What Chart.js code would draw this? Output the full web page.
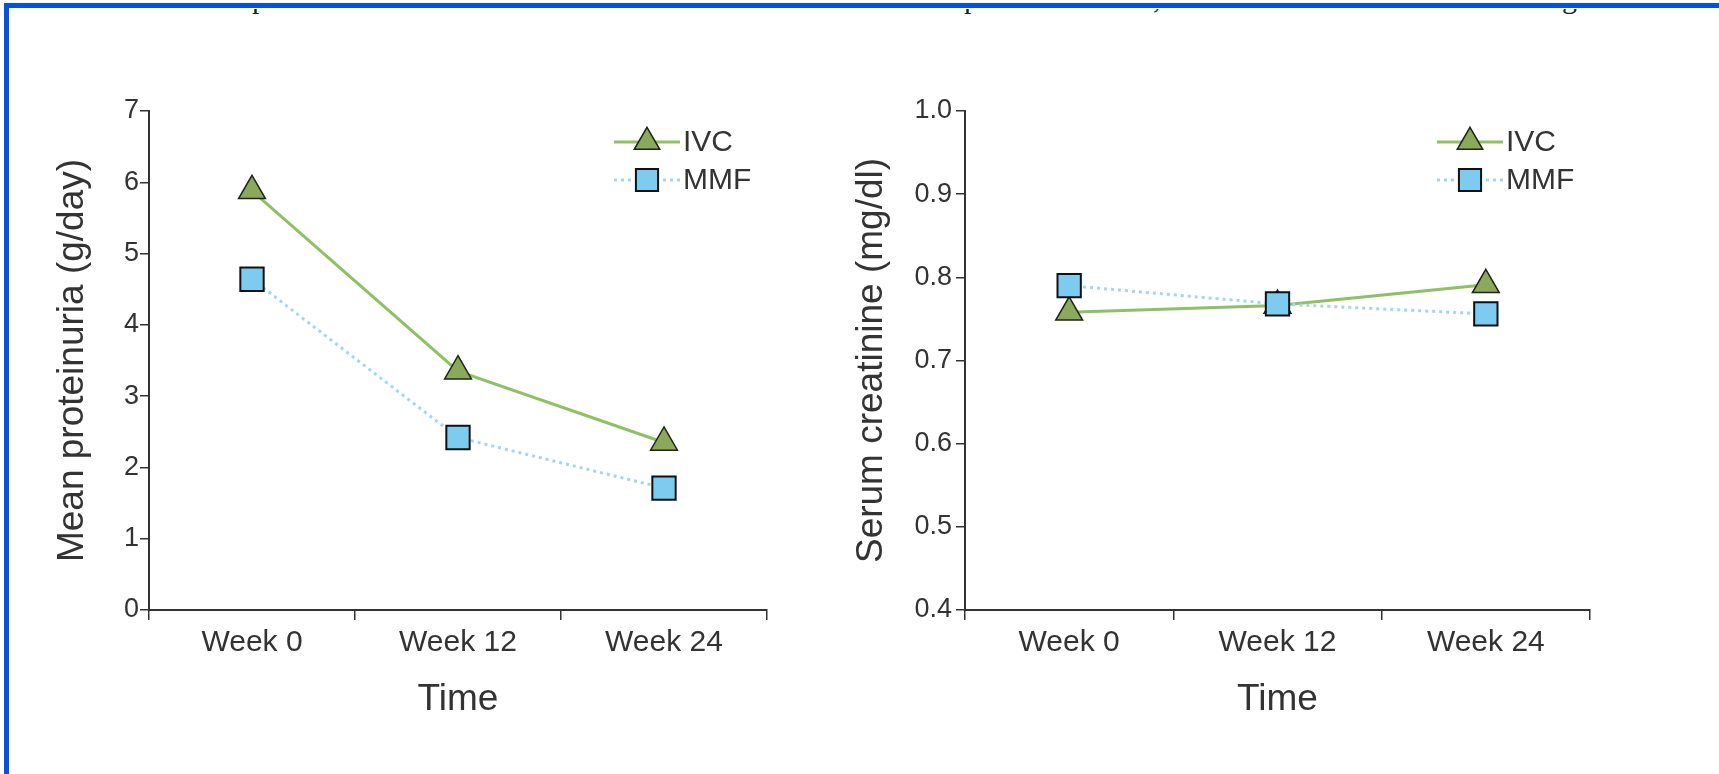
<!DOCTYPE html>
<html>
<head>
<meta charset="utf-8">
<script src="https://cdn.jsdelivr.net/npm/chart.js@4/dist/chart.umd.min.js"></script>
<style>
  html, body { margin: 0; padding: 0; background: #fff; }
  body { width: 1719px; height: 774px; position: relative; overflow: hidden; }
  .frame-top { position: absolute; left: 4px; top: 3px; width: 1715px; height: 5px; background: #0650e4; }
  .frame-left { position: absolute; left: 4px; top: 3px; width: 5px; height: 771px; background: #0650e4; }
  .cut { position: absolute; left: 0; top: 9px; width: 1719px; height: 20px; overflow: hidden; }
  .cut span { position: absolute; top: -26px; font: 30px/30px "Liberation Serif", serif; color: #222; }
  .panel { position: absolute; top: 0; width: 800px; height: 774px; }
</style>
</head>
<body>
<div class="frame-top"></div>
<div class="frame-left"></div>
<div class="cut">
  <span style="left:252px">p</span>
  <span style="left:964px">p</span>
  <span style="left:1153px">,</span>
  <span style="left:1562px">g</span>
</div>
<div class="panel" style="left:0"><canvas id="proteinuriaChart"></canvas></div>
<div class="panel" style="left:816px"><canvas id="creatinineChart"></canvas></div>

<script>
// Data
const weeks = ['Week 0', 'Week 12', 'Week 24'];
const seriesNames = ['IVC', 'MMF'];
const proteinuriaIVC = [5.88, 3.35, 2.35];
const proteinuriaMMF = [4.64, 2.42, 1.71];
const creatinineIVC = [0.758, 0.766, 0.791];
const creatinineMMF = [0.790, 0.768, 0.756];
const proteinuriaTicks = [0, 1, 2, 3, 4, 5, 6, 7];
const creatinineTicks = [0.4, 0.5, 0.6, 0.7, 0.8, 0.9, 1.0];

const FONT = '"Liberation Sans", Arial, Helvetica, sans-serif';
const TEXT = '#333';
const AXIS = '#333';

function ivcDataset(values) {
    return {
        label: seriesNames[0],
        data: values,
        order: 1,
        borderColor: '#90c066',
        borderWidth: 3,
        pointStyle: 'triangle',
        pointRadius: 15.5,
        pointHoverRadius: 15.5,
        pointBackgroundColor: '#8ba95b',
        pointBorderColor: '#1e2418',
        pointBorderWidth: 1.5,
        tension: 0
    };
}

function mmfDataset(values) {
    return {
        label: seriesNames[1],
        data: values,
        order: 0,
        borderColor: '#a6d6ee',
        borderWidth: 3,
        borderDash: [3, 4],
        pointStyle: 'rect',
        pointRadius: 16.5,
        pointHoverRadius: 16.5,
        pointBackgroundColor: '#7dcbef',
        pointBorderColor: '#111',
        pointBorderWidth: 2,
        tension: 0
    };
}

// draws the marker shapes used in the legend
function drawMarker(ctx, style, r, x, y) {
    ctx.beginPath();
    if (style === 'triangle') {
        ctx.moveTo(x, y - r);
        ctx.lineTo(x + Math.sin(2 * Math.PI / 3) * r, y + r / 2);
        ctx.lineTo(x - Math.sin(2 * Math.PI / 3) * r, y + r / 2);
        ctx.closePath();
    } else {
        const s = r * Math.SQRT1_2;
        ctx.rect(x - s, y - s, 2 * s, 2 * s);
    }
    ctx.fill();
    ctx.stroke();
}

// legend with a line sample and marker, like the figure
const lineLegend = {
    id: 'lineLegend',
    afterDraw(chart, args, opts) {
        const ctx = chart.ctx;
        const area = chart.chartArea;
        const x0 = area.right - opts.fromRight;
        const items = chart.data.datasets;
        items.forEach((ds, i) => {
            const y = area.top + opts.rows[i];
            ctx.save();
            ctx.strokeStyle = ds.borderColor;
            ctx.lineWidth = ds.borderWidth;
            ctx.setLineDash(ds.borderDash || []);
            ctx.beginPath();
            ctx.moveTo(x0, y);
            ctx.lineTo(x0 + opts.lineLength, y);
            ctx.stroke();
            ctx.setLineDash([]);
            ctx.fillStyle = ds.pointBackgroundColor;
            ctx.strokeStyle = ds.pointBorderColor;
            ctx.lineWidth = ds.pointBorderWidth;
            drawMarker(ctx, ds.pointStyle, ds.pointRadius * 0.95, x0 + opts.lineLength / 2, y);
            ctx.fillStyle = TEXT;
            ctx.font = opts.fontSize + 'px ' + FONT;
            ctx.textBaseline = 'middle';
            ctx.textAlign = 'left';
            ctx.fillText(ds.label, x0 + opts.lineLength + opts.gap, y + 1);
            ctx.restore();
        });
    }
};

function makeChart(id, datasets, ticks, yTitle, decimals, padLeft, yWidth, padRight, yTickPad) {
    const ctx = document.getElementById(id).getContext('2d');
    return new Chart(ctx, {
        type: 'line',
        data: { labels: weeks, datasets: datasets },
        plugins: [lineLegend],
        options: {
            responsive: true,
            maintainAspectRatio: false,
            animation: false,
            layout: { padding: { left: padLeft, top: 111, right: padRight, bottom: 56 } },
            plugins: {
                legend: { display: false },
                tooltip: { enabled: false },
                lineLegend: { fromRight: 153, rows: [31, 69], lineLength: 66, gap: 3, fontSize: 30 }
            },
            scales: {
                x: {
                    type: 'category',
                    offset: true,
                    afterFit: (scale) => { scale.height = 108; },
                    grid: {
                        offset: true,
                        drawOnChartArea: false,
                        drawTicks: true,
                        tickLength: 10,
                        color: AXIS,
                        lineWidth: 1.5
                    },
                    border: { display: true, color: AXIS, width: 2 },
                    ticks: { color: TEXT, font: { family: FONT, size: 30 }, padding: 5, maxRotation: 0 },
                    title: { display: true, text: 'Time', color: TEXT, font: { family: FONT, size: 37, lineHeight: 1 }, padding: 0 }
                },
                y: {
                    min: ticks[0],
                    max: ticks[ticks.length - 1],
                    afterFit: (scale) => { scale.width = yWidth; },
                    afterBuildTicks: (scale) => { scale.ticks = ticks.map(v => ({ value: v })); },
                    grid: {
                        drawOnChartArea: false,
                        drawTicks: true,
                        tickLength: 9,
                        color: AXIS,
                        lineWidth: 1.5
                    },
                    border: { display: true, color: AXIS, width: 2 },
                    ticks: {
                        color: TEXT,
                        font: { family: FONT, size: 27 },
                        padding: yTickPad,
                        callback: (v) => Number(v).toFixed(decimals)
                    },
                    title: { display: true, text: yTitle, color: TEXT, font: { family: FONT, size: 37, lineHeight: 1 }, padding: 0 }
                }
            }
        }
    });
}

makeChart('proteinuriaChart',
    [ivcDataset(proteinuriaIVC), mmfDataset(proteinuriaMMF)],
    proteinuriaTicks, 'Mean proteinuria (g/day)', 0, 54.5, 94.5, 33, 1);

makeChart('creatinineChart',
    [ivcDataset(creatinineIVC), mmfDataset(creatinineMMF)],
    creatinineTicks, 'Serum creatinine (mg/dl)', 1, 37.5, 111.5, 26, 4);
</script>
</body>
</html>
